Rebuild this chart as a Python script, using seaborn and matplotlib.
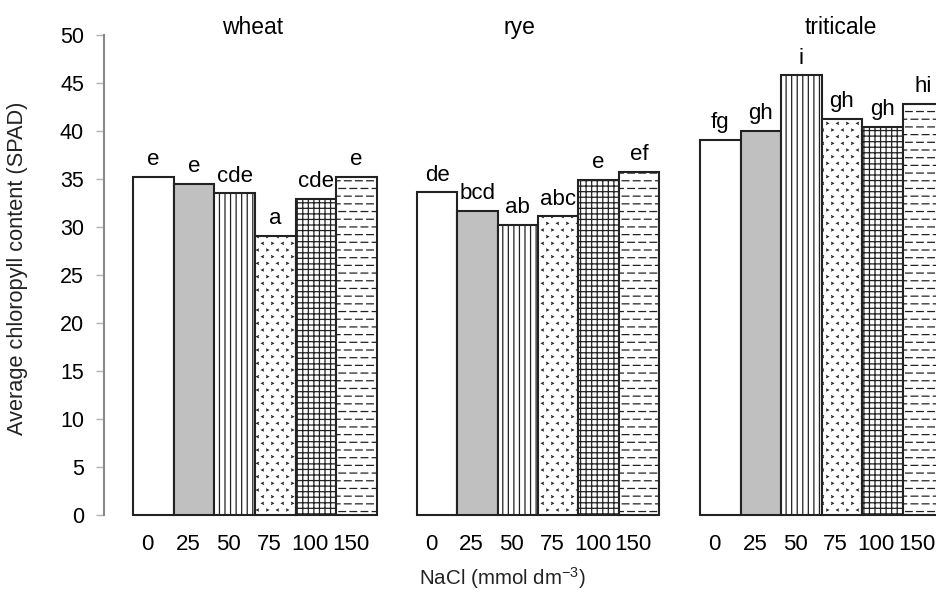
import matplotlib
matplotlib.use("Agg")
import warnings
warnings.filterwarnings("ignore")
import numpy as np
import matplotlib.pyplot as plt
import matplotlib.hatch as mhatch
import matplotlib.transforms as mtrans
from matplotlib.path import Path
import seaborn as sns
import pandas as pd

nacl = ["0", "25", "50", "75", "100", "150"]
crops = ["wheat", "rye", "triticale"]
wheat = [35.2, 34.5, 33.5, 29.1, 32.9, 35.2]
rye = [33.6, 31.7, 30.2, 31.1, 34.9, 35.7]
triticale = [39.1, 40.0, 45.8, 41.3, 40.4, 42.8]
wheat_letters = ["e", "e", "cde", "a", "cde", "e"]
rye_letters = ["de", "bcd", "ab", "abc", "e", "ef"]
triticale_letters = ["fg", "gh", "i", "gh", "gh", "hi"]

values = [wheat, rye, triticale]
letters = [wheat_letters, rye_letters, triticale_letters]


# custom hatch patterns: dashed horizontal rows ('_') and chevrons ('<')
class DashHatch(mhatch.HatchPatternBase):
    def __init__(self, hatch, density):
        n = hatch.count('_')
        self.rows = 13 * n
        self.cols = 9 * n
        self.num_vertices = self.rows * self.cols * 2 if n else 0

    def set_vertices_and_codes(self, vertices, codes):
        ys = (np.arange(self.rows) + 0.5) / self.rows
        step = 1.0 / self.cols
        k = 0
        for r, y in enumerate(ys):
            off = (r % 2) * step * 0.5
            for c in range(self.cols):
                x0 = (c * step + off) % 1.0
                x1 = min(x0 + step * 0.6, 1.0)
                vertices[k] = (x0, y)
                vertices[k + 1] = (x1, y)
                codes[k] = Path.MOVETO
                codes[k + 1] = Path.LINETO
                k += 2


class ChevronHatch(mhatch.HatchPatternBase):
    def __init__(self, hatch, density):
        n = hatch.count('<')
        self.rows = 15 * n
        self.cols = 10 * n
        self.num_vertices = self.rows * self.cols * 3 if n else 0

    def set_vertices_and_codes(self, vertices, codes):
        dx = 1.0 / self.cols
        dy = 1.0 / self.rows
        s = 0.011
        k = 0
        for r in range(self.rows):
            for c in range(self.cols):
                cx = (c + 0.25 + 0.5 * (r % 2)) * dx
                cx = min(max(cx, s + 0.001), 1 - s - 0.001)
                cy = (r + 0.5) * dy
                d = s if (c + r) % 2 == 0 else -s
                vertices[k] = (cx + d, cy + s)
                vertices[k + 1] = (cx - d, cy)
                vertices[k + 2] = (cx + d, cy - s)
                codes[k] = Path.MOVETO
                codes[k + 1] = Path.LINETO
                codes[k + 2] = Path.LINETO
                k += 3


mhatch._hatch_types.append(DashHatch)
mhatch._hatch_types.append(ChevronHatch)

sns.set_style("white")
plt.rcParams['font.family'] = ['Liberation Sans', 'DejaVu Sans']
plt.rcParams['mathtext.fontset'] = 'custom'
plt.rcParams['mathtext.rm'] = 'Liberation Sans'
plt.rcParams['mathtext.it'] = 'Liberation Sans'
plt.rcParams['hatch.linewidth'] = 0.9
plt.rcParams['hatch.color'] = '#222222'
plt.rcParams['text.color'] = 'black'

W, H = 936, 592
fig = plt.figure(figsize=(W / 100, H / 100), dpi=100)
PX = 72 / 100  # points per pixel

lefts = [133, 417, 700]
widths = [244, 242, 243]
top_px, bot_px = 35, 515
faces = ['white', '#c0c0c0', 'white', 'white', 'white', 'white']
hatches = [None, None, '|||', '<', '+++', '_']
hatch_lw = [0.9, 0.9, 0.9, 0.6, 0.9, 0.9]
title_x = [2.43, 2.03, 2.98]

for i, crop in enumerate(crops):
    ax = fig.add_axes([lefts[i] / W, (H - bot_px) / H, widths[i] / W, (bot_px - top_px) / H])
    df = pd.DataFrame({"NaCl": nacl, "value": values[i]})
    sns.barplot(data=df, x="NaCl", y="value", order=nacl, hue="NaCl", palette=faces,
                legend=False, width=1.0, edgecolor='#222222', linewidth=1.5, ax=ax,
                errorbar=None, saturation=1)
    for j, p in enumerate(ax.patches):
        p.set_facecolor(faces[j])
        if hatches[j]:
            p.set_hatch(hatches[j])
            if hasattr(p, "set_hatch_linewidth"):
                p.set_hatch_linewidth(hatch_lw[j])
        p.set_clip_on(False)
    ax.set_xlim(-0.5, 5.5)
    ax.set_ylim(0, 50)
    for j, (v, lab) in enumerate(zip(values[i], letters[i])):
        ax.annotate(lab, (j, v), xytext=(0, 8.5), textcoords='offset points',
                    ha='center', va='baseline', fontsize=16, color='black')
    ax.set_xlabel("")
    ax.set_ylabel("")
    ax.tick_params(axis='x', length=0, pad=19 * PX, labelsize=16, labelcolor='black')
    shift = mtrans.ScaledTranslation(-6 / 100, 0, fig.dpi_scale_trans)
    for lbl in ax.get_xticklabels():
        lbl.set_transform(lbl.get_transform() + shift)
    for s in ['top', 'right', 'bottom']:
        ax.spines[s].set_visible(False)
    if i == 0:
        ax.spines['left'].set_position(('outward', 29 * PX))
        ax.spines['left'].set_color('#888888')
        ax.spines['left'].set_linewidth(1.5)
        ax.set_yticks(range(0, 51, 5))
        ax.tick_params(axis='y', length=8 * PX, width=1, color='#b0b0b0', direction='out',
                       left=True, pad=12 * PX, labelsize=15.5, labelcolor='black')
    else:
        ax.spines['left'].set_visible(False)
        ax.set_yticks([])
    ax.annotate(crop, (title_x[i], 1.0), xycoords=ax.get_xaxis_transform(),
                xytext=(0, 1 * PX), textcoords='offset points',
                ha='center', va='baseline', fontsize=16.5, color='black',
                annotation_clip=False)
    ax.patch.set_alpha(0)

fig.text(18 / W, 1 - 268 / H, "Average chloropyll content (SPAD)", rotation=90,
         ha='center', va='center', fontsize=15.7, color='#222222')
fig.text(502 / W, 1 - 585 / H, "NaCl (mmol dm$^{-3}$)", ha='center', va='baseline',
         fontsize=14.8, color='#222222')

fig.savefig("out.png", dpi=100)
